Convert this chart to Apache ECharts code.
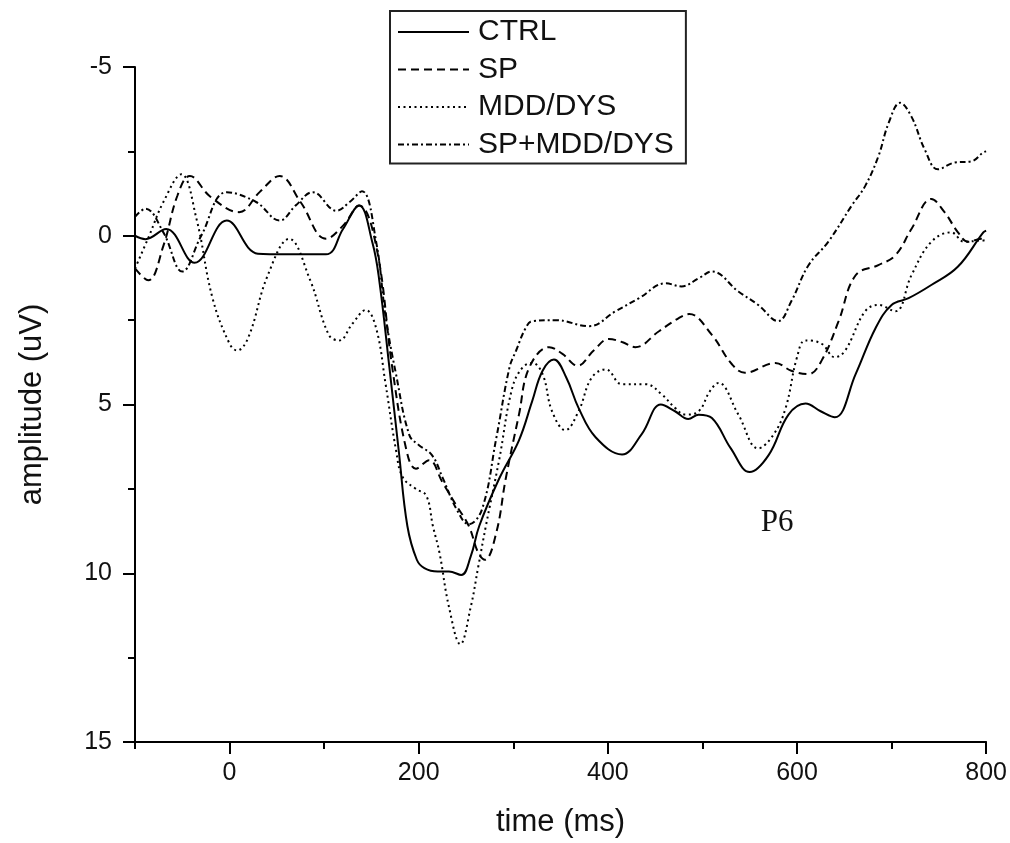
<!DOCTYPE html>
<html>
<head>
<meta charset="utf-8">
<title>ERP amplitude by group</title>
<script src="https://cdn.jsdelivr.net/npm/echarts@6.0.0/dist/echarts.min.js"></script>
<style>
  html, body { margin: 0; padding: 0; background: #fff; }
  #chart { width: 1010px; height: 843px; }
</style>
</head>
<body>
<div id="chart"></div>
<script>
// values: [time (ms), amplitude (uV)]
var ctrl = [
  [-100, 0.0], [-89, 0.1], [-67, -0.2], [-37, 0.8], [-3, -0.45], [30, 0.53], [60, 0.55],
  [102, 0.55], [120, -0.2], [137, -0.9], [151, 0.2], [158, 1.26], [169, 3.9], [179, 6.4],
  [188, 8.6], [198, 9.6], [206, 9.85], [220, 9.95], [232, 9.95], [245, 10.05], [255, 9.5],
  [264, 8.6], [285, 7.2], [306, 6.06], [320, 4.9], [331, 4.0], [343, 3.67], [356, 4.2],
  [369, 5.1], [387, 5.97], [415, 6.48], [436, 5.87], [456, 5.0], [471, 5.2], [485, 5.43],
  [496, 5.3], [510, 5.4], [530, 6.3], [550, 7.0], [570, 6.5], [591, 5.3], [609, 4.97],
  [625, 5.2], [640, 5.38], [662, 4.1], [683, 2.74], [700, 2.05], [718, 1.85], [742, 1.46],
  [770, 0.92], [797, -0.1], [800, -0.15]
]
var sp = [
  [-100, 0.97], [-86, 1.32], [-70, 0.3], [-55, -1.2], [-42, -1.77], [-20, -1.15], [10, -0.7],
  [32, -1.3], [53, -1.77], [75, -1.0], [102, 0.09], [120, -0.3], [137, -0.9], [155, 0.3],
  [172, 3.9], [187, 6.35], [197, 6.9], [211, 6.65], [225, 7.3], [240, 8.0], [253, 8.6],
  [263, 9.4], [270, 9.6], [282, 8.8], [292, 7.2], [306, 5.3], [317, 3.9], [338, 3.3],
  [352, 3.5], [368, 3.85], [385, 3.4], [401, 3.06], [415, 3.15], [429, 3.3], [454, 2.83],
  [475, 2.44], [486, 2.32], [510, 2.94], [531, 3.8], [545, 4.06], [577, 3.77], [594, 4.0],
  [612, 4.1], [626, 3.7], [644, 2.53], [662, 1.17], [686, 0.87], [704, 0.58], [721, -0.2],
  [742, -1.09], [756, -0.7], [770, -0.11], [781, 0.18], [795, 0.09], [800, 0.1]
]
var mdd = [
  [-100, 0.97], [-85, 0.0], [-70, -1.0], [-51, -1.82], [-35, -0.5], [-18, 1.85], [0, 3.2],
  [8, 3.4], [20, 3.0], [40, 1.2], [63, 0.09], [85, 1.3], [105, 2.94], [116, 3.1], [130, 2.6],
  [144, 2.2], [155, 2.74], [165, 4.4], [176, 6.35], [183, 7.15], [197, 7.5], [208, 7.7],
  [215, 8.6], [222, 9.4], [232, 11.0], [244, 12.1], [255, 11.0], [263, 9.8], [271, 8.6],
  [285, 6.65], [299, 4.5], [310, 3.9], [320, 3.77], [331, 4.1], [341, 5.2], [355, 5.76],
  [369, 5.2], [383, 4.2], [398, 3.96], [415, 4.4], [440, 4.4], [457, 4.7], [471, 5.1],
  [482, 5.3], [496, 5.2], [508, 4.6], [517, 4.36], [538, 5.3], [559, 6.3], [575, 5.9],
  [588, 5.1], [600, 3.6], [609, 3.1], [626, 3.2], [640, 3.6], [651, 3.4], [672, 2.24],
  [686, 2.05], [704, 2.24], [721, 1.17], [742, 0.18], [763, -0.1], [777, 0.18], [797, 0.14],
  [800, 0.15]
]
var spMdd = [
  [-100, -0.56], [-89, -0.8], [-70, -0.1], [-50, 1.06], [-30, 0.0], [-3, -1.29], [28, -1.0],
  [53, -0.45], [70, -0.9], [88, -1.29], [113, -0.74], [127, -1.0], [140, -1.32], [155, 0.18],
  [165, 2.4], [176, 4.1], [190, 5.9], [200, 6.2], [214, 6.5], [225, 7.15], [240, 8.1],
  [253, 8.55], [267, 8.1], [282, 6.0], [296, 3.9], [303, 3.4], [313, 2.74], [320, 2.53],
  [345, 2.5], [380, 2.68], [408, 2.24], [433, 1.85], [461, 1.41], [478, 1.5], [496, 1.26],
  [510, 1.06], [538, 1.65], [559, 2.05], [580, 2.53], [594, 1.94], [612, 0.88], [633, 0.18],
  [658, -0.9], [672, -1.47], [686, -2.35], [697, -3.35], [709, -3.94], [721, -3.53],
  [735, -2.56], [749, -1.97], [767, -2.17], [784, -2.2], [797, -2.47], [800, -2.5]
]

var groups = ['CTRL', 'SP', 'MDD/DYS', 'SP+MDD/DYS']
var xMajor = [0, 200, 400, 600, 800]
var xMinor = [-100, 100, 300, 500, 700]
var p6At = [579, 8.5]

var font = '"Liberation Sans", Arial, sans-serif'
var ink = '#111'

function lineSeries(name, data, dash) {
  return {
    name: name,
    type: 'line',
    data: data,
    smooth: 0.4,
    symbol: 'none',
    itemStyle: { color: '#000' },
    lineStyle: { color: '#000', width: 2, type: dash }
  }
}

var chart = echarts.init(document.getElementById('chart'))

var series = [
  lineSeries(groups[0], ctrl, 'solid'),
  lineSeries(groups[1], sp, [8, 5]),
  lineSeries(groups[2], mdd, [2, 3.5]),
  lineSeries(groups[3], spMdd, [6, 3, 2, 3])
]
// P6 label
series[0].markPoint = {
  symbol: 'circle',
  symbolSize: 1,
  itemStyle: { color: 'rgba(0,0,0,0)' },
  label: {
    show: true, position: 'inside', formatter: 'P6', color: ink,
    fontFamily: '"Liberation Serif", "Times New Roman", serif', fontSize: 31
  },
  data: [{ coord: p6At }]
}

chart.setOption({
  animation: false,
  backgroundColor: '#fff',
  grid: { left: 135, right: 22, top: 67, bottom: 97 },
  legend: {
    data: groups,
    orient: 'vertical',
    left: 390,
    top: 11,
    itemWidth: 71,
    itemHeight: 14,
    itemGap: 7.5,
    padding: [6, 12, 4, 7],
    borderColor: '#222',
    borderWidth: 2,
    // hide the marker dot that ECharts puts on line legends
    itemStyle: { color: 'rgba(0,0,0,0)', borderWidth: 0, opacity: 0 },
    textStyle: { fontFamily: font, fontSize: 30, lineHeight: 30, color: ink, padding: [0, 0, 0, 4] }
  },
  xAxis: [
    {
      type: 'value', min: -100, max: 800, position: 'bottom',
      name: 'time (ms)', nameLocation: 'middle', nameGap: 65,
      nameTextStyle: { fontFamily: font, fontSize: 31, color: ink },
      axisLine: { show: true, onZero: false, lineStyle: { color: '#000', width: 2 } },
      axisTick: { show: true, length: 12, customValues: xMajor, lineStyle: { color: '#000', width: 2 } },
      axisLabel: { customValues: xMajor, margin: 19, fontFamily: font, fontSize: 25, color: ink },
      splitLine: { show: false }
    },
    {
      type: 'value', min: -100, max: 800, position: 'bottom',
      axisLine: { show: false, onZero: false },
      axisTick: { show: true, length: 7, customValues: xMinor, lineStyle: { color: '#000', width: 2 } },
      axisLabel: { show: false },
      splitLine: { show: false }
    }
  ],
  yAxis: {
    type: 'value', inverse: true, min: -5, max: 15, interval: 5,
    name: 'amplitude (uV)', nameLocation: 'middle', nameGap: 87, nameRotate: 90,
    nameTextStyle: { fontFamily: font, fontSize: 31, color: ink },
    axisLine: { show: true, onZero: false, lineStyle: { color: '#000', width: 2 } },
    axisTick: { show: true, length: 12, lineStyle: { color: '#000', width: 2 } },
    minorTick: { show: true, splitNumber: 2, length: 7, lineStyle: { color: '#000', width: 2 } },
    axisLabel: { margin: 23, fontFamily: font, fontSize: 25, color: ink },
    splitLine: { show: false }
  },
  series: series
})
</script>
</body>
</html>
